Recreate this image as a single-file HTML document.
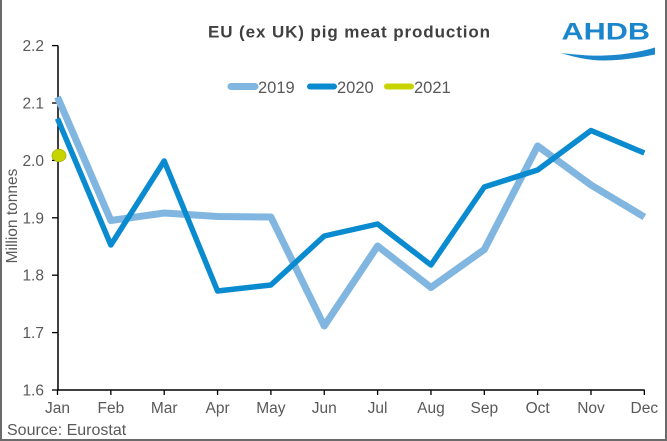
<!DOCTYPE html>
<html>
<head>
<meta charset="utf-8">
<style>
html,body{margin:0;padding:0;background:#fff;}
svg{display:block;}
text{font-family:"Liberation Sans",Arial,sans-serif;}
</style>
</head>
<body>
<svg width="667" height="441" viewBox="0 0 667 441" xmlns="http://www.w3.org/2000/svg">
<rect x="0" y="0" width="667" height="441" fill="#fff"/>
<!-- border -->
<line x1="1" y1="0" x2="1" y2="441" stroke="#6b6b6b" stroke-width="2"/>
<line x1="666" y1="0" x2="666" y2="441" stroke="#6b6b6b" stroke-width="2"/>
<line x1="0" y1="440" x2="667" y2="440" stroke="#6b6b6b" stroke-width="2"/>

<!-- title -->
<text x="349.5" y="37.3" text-anchor="middle" font-size="17" font-weight="bold" fill="#404040" letter-spacing="0.9">EU (ex UK) pig meat production</text>

<!-- logo -->
<text x="561.5" y="39.3" font-size="24.5" font-weight="bold" fill="#1b86cc" textLength="88.5" lengthAdjust="spacingAndGlyphs">AHDB</text>
<path d="M561,53 C578,55 592,56 604,55.5 C622,55 640,52 655,47.5 L655,54.5 C640,57.5 622,60.5 604,60.5 C588,60.5 574,57 561,53 Z" fill="#1b86cc"/>

<!-- legend -->
<line x1="231" y1="86.5" x2="255" y2="86.5" stroke="#80b6e0" stroke-width="7" stroke-linecap="round"/>
<text x="258" y="93" font-size="16.5" fill="#595959">2019</text>
<line x1="310" y1="86.5" x2="334" y2="86.5" stroke="#0a8bd0" stroke-width="6" stroke-linecap="round"/>
<text x="337" y="93" font-size="16.5" fill="#595959">2020</text>
<line x1="387" y1="86.5" x2="411" y2="86.5" stroke="#c8d400" stroke-width="6" stroke-linecap="round"/>
<text x="414" y="93" font-size="16.5" fill="#595959">2021</text>

<!-- y axis title -->
<text transform="translate(17,216) rotate(-90)" text-anchor="middle" font-size="15.5" fill="#595959">Million tonnes</text>

<!-- y axis -->
<line x1="58" y1="45.6" x2="58" y2="390" stroke="#000" stroke-width="1.5"/>
<g stroke="#000" stroke-width="1.3">
<line x1="52" y1="45.6" x2="58" y2="45.6"/>
<line x1="52" y1="103" x2="58" y2="103"/>
<line x1="52" y1="160.4" x2="58" y2="160.4"/>
<line x1="52" y1="217.8" x2="58" y2="217.8"/>
<line x1="52" y1="275.2" x2="58" y2="275.2"/>
<line x1="52" y1="332.6" x2="58" y2="332.6"/>
</g>
<g font-size="15.5" fill="#595959" text-anchor="end">
<text x="44" y="51">2.2</text>
<text x="44" y="108.5">2.1</text>
<text x="44" y="166">2.0</text>
<text x="44" y="223.3">1.9</text>
<text x="44" y="280.7">1.8</text>
<text x="44" y="338">1.7</text>
<text x="44" y="395.5">1.6</text>
</g>
<line x1="52" y1="390" x2="58" y2="390" stroke="#000" stroke-width="1.3"/>

<!-- x axis -->
<line x1="57.3" y1="390" x2="644.5" y2="390" stroke="#000" stroke-width="1.5"/>
<g stroke="#000" stroke-width="1.3">
<line x1="57.5" y1="390" x2="57.5" y2="395"/>
<line x1="110.85" y1="390" x2="110.85" y2="395"/>
<line x1="164.2" y1="390" x2="164.2" y2="395"/>
<line x1="217.55" y1="390" x2="217.55" y2="395"/>
<line x1="270.9" y1="390" x2="270.9" y2="395"/>
<line x1="324.25" y1="390" x2="324.25" y2="395"/>
<line x1="377.6" y1="390" x2="377.6" y2="395"/>
<line x1="430.95" y1="390" x2="430.95" y2="395"/>
<line x1="484.3" y1="390" x2="484.3" y2="395"/>
<line x1="537.65" y1="390" x2="537.65" y2="395"/>
<line x1="591" y1="390" x2="591" y2="395"/>
<line x1="644.35" y1="390" x2="644.35" y2="395"/>
</g>
<g font-size="15.5" fill="#595959" text-anchor="middle">
<text x="57.5" y="413">Jan</text>
<text x="110.85" y="413">Feb</text>
<text x="164.2" y="413">Mar</text>
<text x="217.55" y="413">Apr</text>
<text x="270.9" y="413">May</text>
<text x="324.25" y="413">Jun</text>
<text x="377.6" y="413">Jul</text>
<text x="430.95" y="413">Aug</text>
<text x="484.3" y="413">Sep</text>
<text x="537.65" y="413">Oct</text>
<text x="591" y="413">Nov</text>
<text x="644.35" y="413">Dec</text>
</g>

<!-- source -->
<text x="7" y="435" font-size="16" fill="#595959">Source: Eurostat</text>

<!-- series 2019 -->
<polyline fill="none" stroke="#80b6e0" stroke-width="7" stroke-linejoin="round" stroke-linecap="butt"
points="57.5,97 110.85,220.5 164.2,213 217.55,216.5 270.9,217 324.25,326 377.6,246 430.95,287.5 484.3,249.5 537.65,146 591,185 644.35,217"/>
<!-- series 2020 -->
<polyline fill="none" stroke="#0a8bd0" stroke-width="5.5" stroke-linejoin="round" stroke-linecap="butt"
points="57.5,118.5 110.85,245 164.2,161 217.55,291 270.9,285 324.25,236 377.6,224 430.95,265 484.3,187 537.65,170 591,130.5 644.35,153"/>
<!-- 2021 marker -->
<ellipse cx="59" cy="155.5" rx="7" ry="6.2" fill="#c8d400" stroke="#a8b000" stroke-width="0.8"/>
</svg>
</body>
</html>
